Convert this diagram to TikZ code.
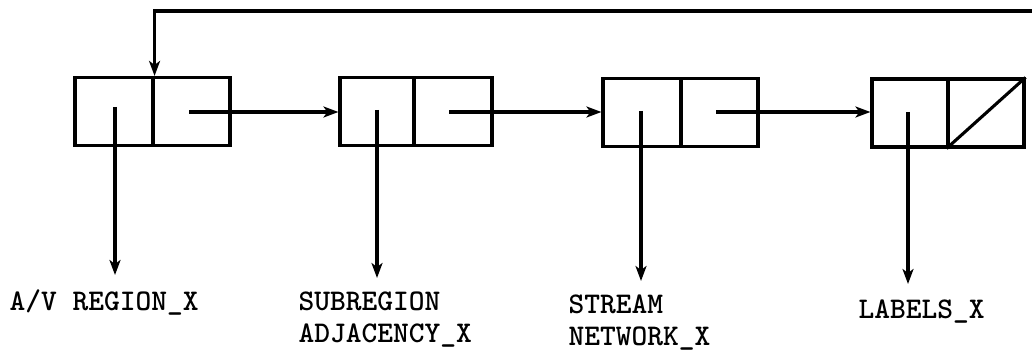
\documentclass[tikz,border=0pt]{standalone}
\usetikzlibrary{arrows.meta}
\begin{document}
\begin{tikzpicture}[x=1pt,y=-1pt,
    line width=3.1pt,
    cell/.style={draw,rectangle,inner sep=0pt,minimum height=68pt},
    ptr/.style={-{Stealth[length=15pt,width=11pt,inset=4pt]}},
    lbl/.style={inner sep=0pt,anchor=base west,align=left,
      font=\fontsize{30}{32}\selectfont\ttfamily\bfseries}]
  \useasboundingbox (0,0) rectangle (1032,358);

  % list cells: value field (l) and link field (r)
  \node[cell,minimum width=78pt] (c1l) at (114,111.5) {};
  \node[cell,minimum width=77pt] (c1r) at (191.5,111.5) {};
  \node[cell,minimum width=74pt] (c2l) at (377,111.5) {};
  \node[cell,minimum width=78pt] (c2r) at (453,111.5) {};
  \node[cell,minimum width=78pt] (c3l) at (642,112.5) {};
  \node[cell,minimum width=77pt] (c3r) at (719.5,112.5) {};
  \node[cell,minimum width=76pt] (c4l) at (910,113) {};
  \node[cell,minimum width=76pt] (c4r) at (986,113) {};

  % nil link in the last cell
  \draw (c4r.south west) -- (c4r.north east);

  % pointer origins
  \coordinate (v1) at (115,107);
  \coordinate (v2) at (377,110);
  \coordinate (v3) at (641,111);
  \coordinate (v4) at (908,112);
  \coordinate (n1) at (189,112);
  \coordinate (n2) at (449,112);
  \coordinate (n3) at (716,112);

  % pointer targets
  \coordinate (t1) at (115,275);
  \coordinate (t2) at (377,278);
  \coordinate (t3) at (641,281);
  \coordinate (t4) at (908,284);

  % labels (base anchor sits on the last line)
  \node[lbl] (l1) at (8,310) {A/V REGION\_X};
  \node[lbl] (l2) at (297,342) {SUBREGION\\ADJACENCY\_X};
  \node[lbl] (l3) at (567,345) {STREAM\\NETWORK\_X};
  \node[lbl] (l4) at (857,318) {LABELS\_X};

  % links along the list
  \draw[ptr] (n1) -- (n1 -| c2l.west);
  \draw[ptr] (n2) -- (n2 -| c3l.west);
  \draw[ptr] (n3) -- (n3 -| c4l.west);

  % value pointers
  \draw[ptr] (v1) -- (t1);
  \draw[ptr] (v2) -- (t2);
  \draw[ptr] (v3) -- (t3);
  \draw[ptr] (v4) -- (t4);

  % link coming back into the head of the list
  \coordinate (fb) at (1032,11);
  \draw[ptr] (fb) -| (c1l.north east);
\end{tikzpicture}
\end{document}
